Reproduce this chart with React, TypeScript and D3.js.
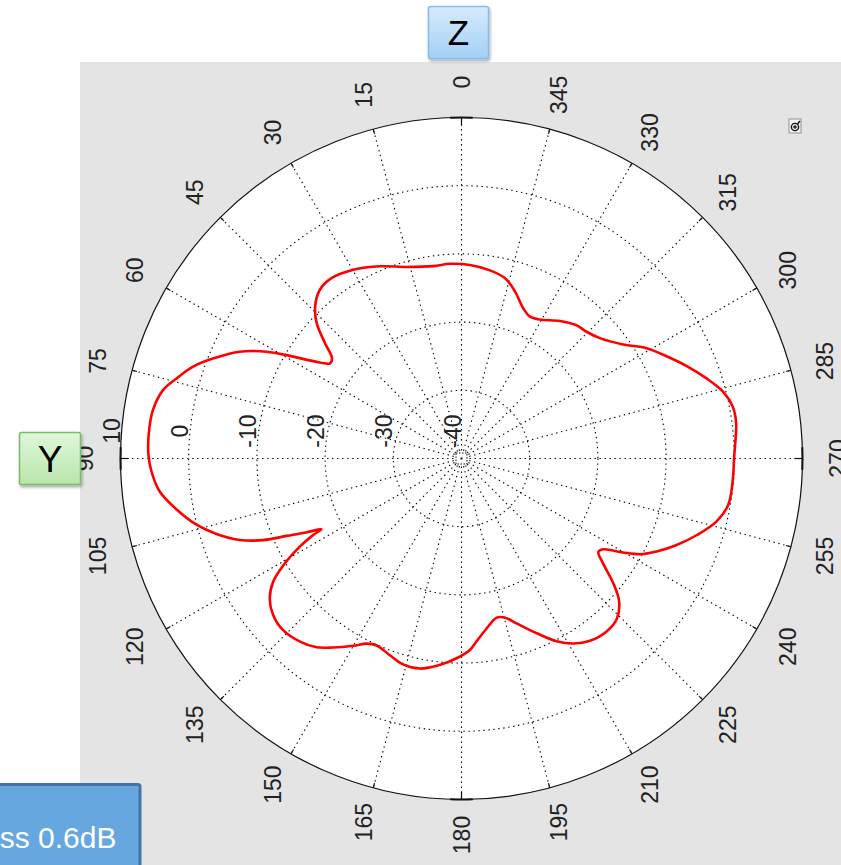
import React from 'react';
import * as d3 from 'd3';

// Radiation pattern (angle in degrees, counter-clockwise from top; gain in dB)
const angleDeg = [
  3.4, 8.3, 15.9, 22.9, 29.8, 35.8, 40.0, 44.0, 47.0, 49.8, 52.3, 54.1, 56.7, 59.1,
  61.3, 64.3, 68.0, 71.1, 74.3, 77.1, 81.1, 85.5, 89.4, 92.4, 96.3, 100.2, 104.1,
  107.1, 110.2, 112.4, 113.9, 115.5, 116.8, 117.3, 118.6, 120.9, 123.2, 126.1,
  129.7, 133.9, 138.6, 142.5, 145.8, 150.0, 152.9, 155.6, 160.0, 164.3, 168.8,
  174.1, 178.6, 182.5, 184.7, 188.4, 192.5, 195.3, 198.5, 203.3, 207.5, 211.2,
  215.2, 220.0, 224.2, 227.8, 230.6, 233.5, 235.7, 237.4, 239.8, 241.8, 244.5,
  248.1, 252.0, 256.1, 260.1, 265.1, 270.7, 273.2, 277.3, 280.8, 284.3, 288.1,
  292.3, 296.5, 300.8, 305.2, 311.0, 315.4, 319.2, 324.4, 330.6, 334.2, 337.6,
  342.2, 346.4, 351.4, 357.5,
];
const gainDb = [
  -11.4, -11.5, -10.8, -9.4, -8.1, -7.4, -7.7, -9.1, -11.0, -13.8, -16.0, -16.2, -14.0, -10.7,
  -7.4, -3.9, -0.8, 1.6, 3.4, 4.9, 5.8, 6.0, 5.9, 5.5, 4.5, 2.4, 0.0,
  -2.4, -5.4, -8.6, -12.0, -14.9, -17.0, -15.5, -13.0, -9.6, -7.0, -5.2,
  -4.1, -3.7, -4.2, -5.1, -6.5, -8.3, -9.5, -9.9, -9.3, -8.6, -8.6,
  -9.6, -10.7, -11.9, -13.1, -14.8, -16.1, -15.8, -14.5, -12.1, -9.8, -8.3,
  -7.3, -6.9, -7.3, -8.8, -11.2, -14.2, -15.7, -15.3, -12.6, -10.3, -8.3,
  -6.0, -3.7, -1.5, -0.3, -0.1, 0.0, 0.2, 0.6, 0.5, -0.4, -2.2,
  -4.3, -6.4, -8.4, -11.0, -13.1, -13.9, -14.2, -15.2, -16.6, -16.9, -16.2,
  -14.3, -12.8, -12.1, -11.6,
];

const ringValues = [-40, -30, -20, -10, 0, 10];
const ringLabels = ['-40', '-30', '-20', '-10', '0', '10'];
const angleTicks = [0, 15, 30, 45, 60, 75, 90, 105, 120, 135, 150, 165, 180, 195, 210, 225, 240, 255, 270, 285, 300, 315, 330, 345];
const angleLabels = ['0', '15', '30', '45', '60', '75', '90', '105', '120', '135', '150', '165', '180', '195', '210', '225', '240', '255', '270', '285', '300', '315', '330', '345'];

const W = 841;
const H = 865;
const cx = 461.5;
const cy = 458.5;
const R = 341;
const FONT = 'Liberation Sans, Arial, Helvetica, sans-serif';

export default function App() {
  const r = d3.scaleLinear().domain([-40, 10]).range([0, R]);
  const rad = (deg: number) => (deg * Math.PI) / 180;
  const px = (deg: number, rr: number) => cx - rr * Math.sin(rad(deg));
  const py = (deg: number, rr: number) => cy - rr * Math.cos(rad(deg));

  const pts = angleDeg.map((a, i) => ({ a, g: gainDb[i] }));
  const line = d3
    .lineRadial<{ a: number; g: number }>()
    .angle((d) => -rad(d.a))
    .radius((d) => r(d.g))
    .curve(d3.curveCatmullRomClosed.alpha(0.5));
  const pathD = line(pts) || '';

  const dot = '1.4 3.6';

  return (
    <svg
      width={W}
      height={H}
      viewBox={`0 0 ${W} ${H}`}
      style={{ position: 'absolute', left: 0, top: 0, display: 'block' }}
      fontFamily={FONT}
    >
      <defs>
        <linearGradient id="zGrad" x1="0" y1="0" x2="0" y2="1">
          <stop offset="0" stopColor="#d6ebfd" />
          <stop offset="1" stopColor="#a3d0f6" />
        </linearGradient>
        <linearGradient id="yGrad" x1="0" y1="0" x2="0" y2="1">
          <stop offset="0" stopColor="#e0f7d9" />
          <stop offset="1" stopColor="#b9e6ad" />
        </linearGradient>
        <filter id="shadow" x="-20%" y="-20%" width="150%" height="150%">
          <feDropShadow dx="1" dy="2" stdDeviation="1.5" floodColor="#000" floodOpacity="0.35" />
        </filter>
      </defs>

      <rect x={0} y={0} width={W} height={H} fill="#ffffff" />
      <rect x={80} y={62} width={W - 80} height={H - 62} fill="#e4e4e4" />

      {/* polar disc */}
      <circle cx={cx} cy={cy} r={R} fill="#ffffff" />

      {/* rings */}
      {ringValues.slice(1, 5).map((v) => (
        <circle key={v} cx={cx} cy={cy} r={r(v)} fill="none" stroke="#000" strokeWidth={1.1} strokeDasharray={dot} />
      ))}

      {/* spokes */}
      {angleTicks.map((a) => (
        <line
          key={a}
          x1={px(a, 8)}
          y1={py(a, 8)}
          x2={px(a, R)}
          y2={py(a, R)}
          stroke="#000"
          strokeWidth={1.1}
          strokeDasharray={dot}
        />
      ))}
      <rect x={cx - 5.5} y={cy - 5.5} width={11} height={11} fill="none" stroke="#111" strokeWidth={1} strokeDasharray="1.5 1.5" />
      <rect x={cx - 1} y={cy - 1} width={2} height={2} fill="#111" />

      {/* outer circle */}
      <circle cx={cx} cy={cy} r={R} fill="none" stroke="#111" strokeWidth={1.2} />
      {angleTicks.map((a) => {
        const major = a % 90 === 0;
        const len = major ? 8 : 5;
        return (
          <line key={'t' + a} x1={px(a, R)} y1={py(a, R)} x2={px(a, R - len)} y2={py(a, R - len)} stroke="#111" strokeWidth={1.2} />
        );
      })}
      {angleTicks
        .filter((a) => a % 90 === 0)
        .map((a) => (
          <path
            key={'arc' + a}
            d={d3.arc()({ innerRadius: R - 1, outerRadius: R + 1, startAngle: -rad(a) - 0.033, endAngle: -rad(a) + 0.033 }) || ''}
            transform={`translate(${cx},${cy})`}
            fill="#111"
          />
        ))}

      {/* radial labels */}
      {ringValues.map((v, i) => (
        <text
          key={'rl' + v}
          transform={`translate(${cx - r(v) - 9},${431}) rotate(-90)`}
          textAnchor="middle"
          dominantBaseline="central"
          fontSize={23}
          fill="#222"
        >
          {ringLabels[i]}
        </text>
      ))}

      {/* angle labels */}
      {angleTicks.map((a, i) => (
        <text
          key={'al' + a}
          transform={`translate(${px(a, 376.5)},${py(a, 376.5)}) rotate(-90)`}
          textAnchor="middle"
          dominantBaseline="central"
          fontSize={23}
          fill="#222"
        >
          {angleLabels[i]}
        </text>
      ))}

      {/* pattern */}
      <path d={pathD} transform={`translate(${cx},${cy})`} fill="none" stroke="#ff0000" strokeWidth={2.6} strokeLinejoin="round" />

      {/* small icon */}
      <g>
        <rect x={789} y={119} width={12} height={14} fill="#f4f4f4" stroke="#8a94a0" strokeWidth={1} />
        <circle cx={795} cy={127} r={3.6} fill="none" stroke="#111" strokeWidth={1.4} />
        <line x1={793} y1={127} x2={797} y2={127} stroke="#111" strokeWidth={1.2} />
        <line x1={795} y1={125} x2={795} y2={129} stroke="#111" strokeWidth={1.2} />
        <line x1={797.5} y1={124} x2={800} y2={121} stroke="#111" strokeWidth={1.4} />
      </g>

      {/* Z box */}
      <g filter="url(#shadow)">
        <rect x={428.5} y={6.5} width={60} height={52} rx={2} fill="url(#zGrad)" stroke="#86bbea" strokeWidth={1.5} />
      </g>
      <text x={458.5} y={45} textAnchor="middle" fontSize={35} fill="#000">Z</text>

      {/* Y box */}
      <g filter="url(#shadow)">
        <rect x={19.5} y={432.5} width={61} height={52} rx={2} fill="url(#yGrad)" stroke="#78bd68" strokeWidth={1.5} />
      </g>
      <text x={50} y={471.5} textAnchor="middle" fontSize={37} fill="#000">Y</text>

      {/* bottom-left note */}
      <rect x={-6} y={784.5} width={146} height={90} rx={2} fill="#67a7df" stroke="#4274a5" strokeWidth={3} />
      <text x={116.5} y={848} textAnchor="end" fontSize={30} fill="#ffffff">ss 0.6dB</text>
    </svg>
  );
}
